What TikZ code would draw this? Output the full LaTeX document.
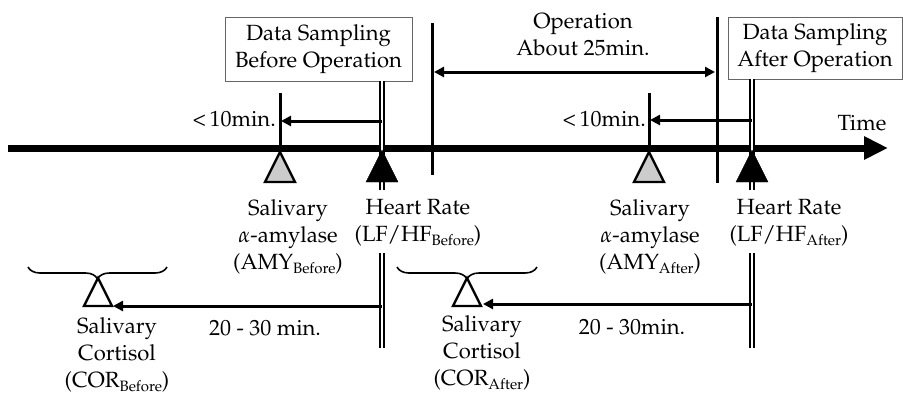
\documentclass[tikz,border=0pt]{standalone}
\usepackage[T1]{fontenc}
\usepackage{mathpazo}
\usetikzlibrary{arrows.meta,decorations.pathreplacing}
\newcommand\lowsub[1]{\raisebox{-0.35ex}{\fontsize{15}{15}\selectfont #1}}
\begin{document}
\begin{tikzpicture}[x=1pt,y=1pt,
  lbl/.style={font=\fontsize{22}{27}\selectfont, align=center, inner sep=0pt},
  samplebox/.style={draw=black!60, line width=1pt, lbl, inner sep=0pt},
  vline/.style={line width=3pt},
  dline/.style={double, double distance=2pt, line width=2pt},
  tarrow/.style={line width=3pt, -{Triangle[length=10pt,width=10pt]}},
  darrow/.style={line width=3pt, {Triangle[length=10pt,width=10pt]}-{Triangle[length=10pt,width=10pt]}},
  axisline/.style={line width=7pt, -{Triangle[length=24pt,width=22pt]}},
  hatchtri/.style={line width=2.4pt, fill=black!20},
  solidtri/.style={fill=black},
  opentri/.style={line width=2.4pt, fill=white},
  bracket/.style={line width=1.6pt, decorate, decoration={brace, mirror, amplitude=12pt}}
]
\useasboundingbox (0,0) rectangle (903,-397);

% coordinates
\coordinate (axA) at (8,-148);
\coordinate (axB) at (888,-148);
\coordinate (hrB) at (382,-81);
\coordinate (hrBm) at (382,-190);
\coordinate (hrBl) at (382,-253);
\coordinate (hrBb) at (382,-348);
\coordinate (hrA) at (752,-79);
\coordinate (hrAm) at (752,-190);
\coordinate (hrAl) at (752,-253);
\coordinate (hrAb) at (752,-348);
\coordinate (amyBt) at (280,-93);
\coordinate (amyBb) at (280,-148);
\coordinate (amyAt) at (649,-93);
\coordinate (amyAb) at (649,-148);
\coordinate (opLt) at (432,-23);
\coordinate (opLb) at (432,-175);
\coordinate (opRt) at (717,-17);
\coordinate (opRb) at (717,-183);
\coordinate (opArL) at (434,-72);
\coordinate (opArR) at (715,-72);
\coordinate (tenBs) at (382,-121);
\coordinate (tenBe) at (281,-121);
\coordinate (tenAs) at (752,-120);
\coordinate (tenAe) at (650,-120);
\coordinate (corBs) at (382,-306);
\coordinate (corBe) at (113,-306);
\coordinate (corAs) at (752,-304);
\coordinate (corAe) at (483,-304);

% boxes
\node[samplebox, minimum width=187pt, minimum height=64pt] (boxB) at (318.5,-49) {Data Sampling\\Before Operation};
\node[samplebox, minimum width=174pt, minimum height=62pt] (boxA) at (815,-48) {Data Sampling\\After Operation};

% time axis
\draw[axisline] (axA) -- (axB);
\node[lbl] (time) at (862,-123) {Time};

% operation markers
\draw[vline] (opLt) -- (opLb);
\draw[vline] (opRt) -- (opRb);
\draw[darrow] (opArL) -- (opArR);
\node[lbl] (oplbl) at (583,-35) {Operation\\About 25min.};

% amylase markers
\draw[vline] (amyBt) -- (amyBb);
\draw[vline] (amyAt) -- (amyAb);

% heart-rate double lines
\draw[dline] (hrB) -- (hrBm);
\draw[dline] (hrBl) -- (hrBb);
\draw[dline] (hrA) -- (hrAm);
\draw[dline] (hrAl) -- (hrAb);

% < 10 min arrows
\draw[tarrow] (tenBs) -- (tenBe);
\draw[tarrow] (tenAs) -- (tenAe);
\node[lbl, anchor=east] (tenB) at (276,-119) {<\,10min.};
\node[lbl, anchor=east] (tenA) at (646,-119) {<\,10min.};

% triangles on the axis
\draw[hatchtri] (280,-152) -- (265,-182) -- (295,-182) -- cycle;
\draw[hatchtri] (649,-152) -- (634,-182) -- (664,-182) -- cycle;
\draw[solidtri] (382,-150) -- (366,-182) -- (398,-182) -- cycle;
\draw[solidtri] (752,-150) -- (736,-182) -- (768,-182) -- cycle;

% labels below the axis
\node[lbl] (amyBl) at (288,-237) {Salivary\\$\alpha$-amylase\\(AMY\lowsub{Before})};
\node[lbl] (hrBlb) at (418,-223) {Heart Rate\\(LF/HF\lowsub{Before})};
\node[lbl] (amyAl) at (650,-237) {Salivary\\$\alpha$-amylase\\(AMY\lowsub{After})};
\node[lbl] (hrAlb) at (789,-223) {Heart Rate\\(LF/HF\lowsub{After})};

% cortisol
\draw[bracket] (28,-267) -- (167,-267);
\draw[bracket] (397,-267) -- (537,-267);
\draw[opentri] (98,-278) -- (84,-306) -- (112,-306) -- cycle;
\draw[opentri] (467,-278) -- (453,-306) -- (481,-306) -- cycle;
\draw[tarrow] (corBs) -- (corBe);
\draw[tarrow] (corAs) -- (corAe);
\node[lbl] (twB) at (265,-328) {20 - 30 min.};
\node[lbl] (twA) at (632,-327) {20 - 30min.};
\node[lbl] (corB) at (117,-355) {Salivary\\Cortisol\\(COR\lowsub{Before})};
\node[lbl] (corA) at (482,-353) {Salivary\\Cortisol\\(COR\lowsub{After})};
\end{tikzpicture}
\end{document}
